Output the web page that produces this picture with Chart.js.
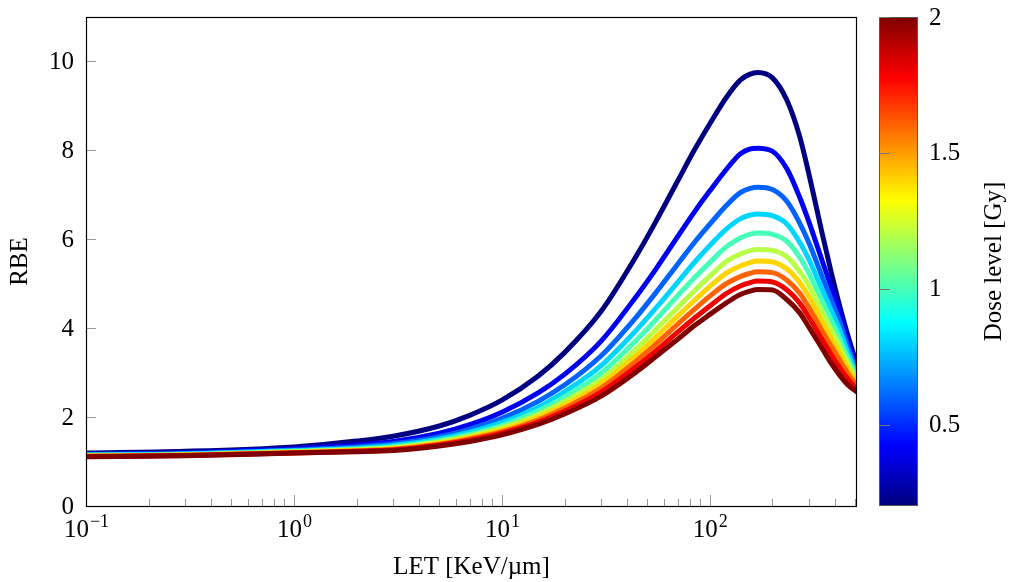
<!DOCTYPE html>
<html>
<head>
<meta charset="utf-8">
<script src="https://cdn.jsdelivr.net/npm/chart.js@4.4.0/dist/chart.umd.min.js"></script>
<style>
  body { margin: 0; background: #fff; }
  canvas { display: block; }
</style>
</head>
<body>
<canvas id="rbe-chart" width="1013" height="582"></canvas>
<script>
// LET values (x, log axis) where the curves were read
var letValues = [0.1, 0.3, 1, 2, 3, 5, 7, 10, 15, 20, 30, 45, 55, 70, 85, 100, 120, 140, 155, 170, 200, 235, 270, 300, 350, 385, 420, 460, 510];

// dose levels [Gy], one curve each
var doseLevels = [0.2, 0.4, 0.6, 0.8, 1.0, 1.2, 1.4, 1.6, 1.8, 2.0];

// RBE, per dose level
var rbeDose02 = [1.19, 1.23, 1.33, 1.46, 1.57, 1.80, 2.04, 2.38, 2.93, 3.45, 4.38, 5.68, 6.40, 7.31, 8.04, 8.60, 9.19, 9.58, 9.71, 9.75, 9.63, 9.12, 8.32, 7.45, 6.05, 5.22, 4.52, 3.85, 3.17];
var rbeDose04 = [1.17, 1.20, 1.29, 1.37, 1.45, 1.64, 1.83, 2.11, 2.55, 2.96, 3.71, 4.76, 5.33, 6.06, 6.64, 7.09, 7.57, 7.92, 8.03, 8.05, 7.98, 7.58, 6.95, 6.38, 5.46, 4.90, 4.38, 3.72, 3.08];
var rbeDose06 = [1.16, 1.18, 1.26, 1.33, 1.40, 1.56, 1.73, 1.97, 2.36, 2.72, 3.38, 4.29, 4.80, 5.44, 5.95, 6.34, 6.76, 7.05, 7.14, 7.17, 7.12, 6.85, 6.37, 5.91, 5.11, 4.62, 4.16, 3.59, 3.02];
var rbeDose08 = [1.15, 1.17, 1.245, 1.30, 1.36, 1.51, 1.66, 1.88, 2.23, 2.57, 3.16, 3.99, 4.45, 5.03, 5.50, 5.86, 6.23, 6.46, 6.54, 6.57, 6.53, 6.34, 5.94, 5.54, 4.82, 4.38, 3.97, 3.46, 2.95];
var rbeDose10 = [1.14, 1.16, 1.23, 1.28, 1.33, 1.47, 1.61, 1.81, 2.14, 2.45, 2.99, 3.76, 4.19, 4.73, 5.15, 5.48, 5.83, 6.03, 6.11, 6.14, 6.11, 5.95, 5.60, 5.23, 4.57, 4.16, 3.78, 3.33, 2.89];
var rbeDose12 = [1.13, 1.15, 1.22, 1.265, 1.31, 1.44, 1.57, 1.76, 2.06, 2.35, 2.85, 3.57, 3.97, 4.46, 4.86, 5.17, 5.50, 5.67, 5.74, 5.77, 5.75, 5.60, 5.28, 4.95, 4.33, 3.95, 3.61, 3.22, 2.82];
var rbeDose14 = [1.125, 1.145, 1.21, 1.25, 1.29, 1.41, 1.54, 1.71, 2.00, 2.27, 2.75, 3.42, 3.80, 4.27, 4.64, 4.94, 5.24, 5.40, 5.47, 5.51, 5.49, 5.33, 5.03, 4.70, 4.12, 3.76, 3.44, 3.10, 2.76];
var rbeDose16 = [1.12, 1.14, 1.20, 1.24, 1.275, 1.39, 1.51, 1.67, 1.94, 2.20, 2.65, 3.29, 3.64, 4.09, 4.44, 4.72, 5.00, 5.16, 5.23, 5.27, 5.25, 5.08, 4.79, 4.46, 3.91, 3.58, 3.29, 2.99, 2.69];
var rbeDose18 = [1.115, 1.135, 1.195, 1.23, 1.26, 1.37, 1.48, 1.64, 1.89, 2.13, 2.56, 3.16, 3.49, 3.91, 4.24, 4.50, 4.78, 4.95, 5.02, 5.06, 5.04, 4.86, 4.57, 4.24, 3.71, 3.39, 3.12, 2.86, 2.62];
var rbeDose20 = [1.11, 1.13, 1.19, 1.22, 1.25, 1.35, 1.45, 1.60, 1.84, 2.07, 2.47, 3.04, 3.36, 3.75, 4.07, 4.31, 4.57, 4.76, 4.83, 4.87, 4.86, 4.64, 4.35, 4.02, 3.51, 3.20, 2.95, 2.73, 2.56];

var rbeSeries = [rbeDose02, rbeDose04, rbeDose06, rbeDose08, rbeDose10,
                 rbeDose12, rbeDose14, rbeDose16, rbeDose18, rbeDose20];

// axis ticks
var yTicks = [0, 2, 4, 6, 8, 10];
var xDecades = [-1, 0, 1, 2];
var colorbarTicks = [0.5, 1, 1.5, 2];
var doseMin = 0.2, doseMax = 2;

var serif = "'Liberation Serif', 'DejaVu Serif', serif";

// pgfplots jet colormap
var jetStops = [[0, 0, 0, 128], [1, 0, 0, 255], [3, 0, 255, 255], [5, 255, 255, 0], [7, 255, 0, 0], [8, 128, 0, 0]];
function jet(t) {
    var p = Math.max(0, Math.min(1, t)) * 8;
    for (var i = 1; i < jetStops.length; i++) {
        var a = jetStops[i - 1], b = jetStops[i];
        if (p <= b[0]) {
            var f = (p - a[0]) / (b[0] - a[0]);
            return 'rgb(' + Math.round(a[1] + f * (b[1] - a[1])) + ',' +
                Math.round(a[2] + f * (b[2] - a[2])) + ',' +
                Math.round(a[3] + f * (b[3] - a[3])) + ')';
        }
    }
    return 'rgb(128,0,0)';
}

var datasets = doseLevels.map(function (d, i) {
    return {
        label: d + ' Gy',
        data: letValues.map(function (x, k) { return { x: x, y: rbeSeries[i][k] }; }),
        borderColor: jet((d - doseMin) / (doseMax - doseMin)),
        borderWidth: 5,
        pointRadius: 0,
        fill: false,
        cubicInterpolationMode: 'monotone',
        order: doseLevels.length - i
    };
});

// frame, tick marks and labels, colour bar
var decorPlugin = {
    id: 'decor',
    afterDraw: function (chart) {
        var ctx = chart.ctx;
        var a = chart.chartArea;
        var xs = chart.scales.x, ys = chart.scales.y;
        ctx.save();

        // tick marks (inward)
        ctx.strokeStyle = '#999';
        ctx.lineWidth = 1;
        ctx.beginPath();
        yTicks.forEach(function (v) {
            var py = Math.round(ys.getPixelForValue(v)) + 0.5;
            ctx.moveTo(a.left, py); ctx.lineTo(a.left + 10, py);
        });
        for (var e = -1; e <= 2; e++) {
            for (var m = 1; m <= 9; m++) {
                var v = m * Math.pow(10, e);
                if (v > xs.max) break;
                var px = Math.round(xs.getPixelForValue(v)) + 0.5;
                ctx.moveTo(px, a.bottom); ctx.lineTo(px, a.bottom - (m === 1 ? 11 : 7));
            }
        }
        ctx.stroke();

        // frame
        ctx.strokeStyle = '#000';
        ctx.lineWidth = 1.2;
        ctx.strokeRect(a.left + 0.5, a.top + 0.5, a.right - a.left - 1, a.bottom - a.top);

        // y labels
        ctx.fillStyle = '#000';
        ctx.font = '25px ' + serif;
        ctx.textAlign = 'right';
        ctx.textBaseline = 'middle';
        yTicks.forEach(function (v) {
            ctx.fillText(String(v), a.left - 12, ys.getPixelForValue(v) + 1);
        });

        // x labels 10^n
        ctx.textBaseline = 'alphabetic';
        ctx.textAlign = 'left';
        xDecades.forEach(function (n) {
            var px = xs.getPixelForValue(Math.pow(10, n));
            var expText = n < 0 ? '\u2212' + (-n) : String(n);
            ctx.font = '25px ' + serif;
            var wb = ctx.measureText('10').width;
            ctx.font = '18px ' + serif;
            var we = ctx.measureText(expText).width;
            var x0 = px - (wb + we) / 2;
            ctx.font = '25px ' + serif;
            ctx.fillText('10', x0, 537);
            ctx.font = '18px ' + serif;
            ctx.fillText(expText, x0 + wb + 1, 527);
        });

        // colour bar
        var cbL = 879, cbR = 918, cbT = a.top, cbB = a.bottom;
        var grad = ctx.createLinearGradient(0, cbB, 0, cbT);
        for (var s = 0; s <= 16; s++) grad.addColorStop(s / 16, jet(s / 16));
        ctx.fillStyle = grad;
        ctx.fillRect(cbL, cbT, cbR - cbL, cbB - cbT);
        ctx.strokeStyle = '#555';
        ctx.lineWidth = 1;
        ctx.strokeRect(cbL + 0.5, cbT + 0.5, cbR - cbL - 1, cbB - cbT - 1);

        ctx.font = '25px ' + serif;
        ctx.textBaseline = 'middle';
        ctx.textAlign = 'left';
        colorbarTicks.forEach(function (d) {
            var py = cbB - (d - doseMin) / (doseMax - doseMin) * (cbB - cbT);
            ctx.strokeStyle = '#777';
            ctx.beginPath();
            ctx.moveTo(cbL, Math.round(py) + 0.5); ctx.lineTo(cbL + 11, Math.round(py) + 0.5);
            ctx.stroke();
            ctx.fillStyle = '#000';
            ctx.fillText(String(d), 929, py + 1);
        });

        ctx.translate(994, (cbT + cbB) / 2);
        ctx.rotate(-Math.PI / 2);
        ctx.textAlign = 'center';
        ctx.fillText('Dose level [Gy]', 0, 0);
        ctx.restore();
    }
};

new Chart(document.getElementById('rbe-chart').getContext('2d'), {
    type: 'line',
    data: { datasets: datasets },
    options: {
        responsive: false,
        animation: false,
        devicePixelRatio: 1,
        layout: { padding: { top: 17, right: 156, left: 0, bottom: 0 } },
        plugins: { legend: { display: false }, tooltip: { enabled: false } },
        scales: {
            x: {
                type: 'logarithmic',
                min: 0.1,
                max: 510,
                grid: { display: false },
                border: { display: false },
                ticks: { display: false },
                title: { display: true, text: 'LET [KeV/\u00b5m]', color: '#000', font: { family: serif, size: 25 }, padding: { top: 0, bottom: 0 } },
                afterFit: function (scale) { scale.height = 76; }
            },
            y: {
                min: 0,
                max: 11,
                grid: { display: false },
                border: { display: false },
                ticks: { display: false },
                title: { display: true, text: 'RBE', color: '#000', font: { family: serif, size: 25 }, padding: { top: 5, bottom: 0 } },
                afterFit: function (scale) { scale.width = 86; }
            }
        }
    },
    plugins: [decorPlugin]
});
</script>
</body>
</html>
